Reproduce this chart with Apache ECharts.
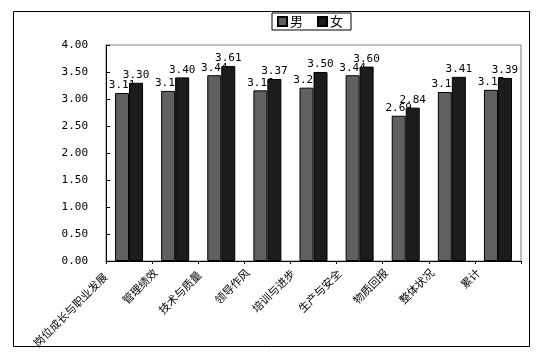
<!DOCTYPE html>
<html><head><meta charset="utf-8">
<script src="https://cdn.jsdelivr.net/npm/echarts@6/dist/echarts.min.js"></script>
<style>html,body{margin:0;padding:0;background:#fff}#c{width:550px;height:359px}</style>
</head><body><div id="c"></div>
<script>
const categories = ['岗位成长与职业发展','管理绩效','技术与质量','领导作风','培训与进步','生产与安全','物质回报','整体状况','累计'];
const male = [3.11, 3.15, 3.44, 3.16, 3.21, 3.44, 2.69, 3.13, 3.17];
const female = [3.30, 3.40, 3.61, 3.37, 3.50, 3.60, 2.84, 3.41, 3.39];
const seriesNames = ['男','女'];
const labelShift = [11, 0, 6, 0, 2, 2, 0, 0, 0];

const chart = echarts.init(document.getElementById('c'), null, {renderer:'canvas'});
const lblStyle = {show:true, position:'top', distance:2, color:'#000', fontFamily:'DejaVu Sans Mono', fontSize:11,
  formatter: p => p.value.toFixed(2)};
const catData = categories.map((c, i) => ({
  value: c,
  textStyle: {padding: [0, 28 + labelShift[i] / 2, labelShift[i], 0]}
}));
chart.setOption({
  animation:false,
  backgroundColor:'#fff',
  graphic:[{type:'rect', shape:{x:13.5,y:11.5,width:516,height:335}, style:{fill:'none',stroke:'#000',lineWidth:1}, z:-1}],
  legend:{
    data:seriesNames, left:272, top:13, orient:'horizontal',
    itemWidth:9, itemHeight:9, itemGap:14, padding:[2,8,2,5],
    borderColor:'#000', borderWidth:1,
    textStyle:{fontSize:13, color:'#000', fontFamily:'Noto Sans CJK SC', padding:[0,0,0,-2]},
    icon:'rect'
  },
  grid:{left:106, right:29, top:45, bottom:98, show:true, borderColor:'#808080', borderWidth:1},
  xAxis:{
    type:'category', data:catData,
    axisLine:{lineStyle:{color:'#000'}},
    axisTick:{show:true, length:3, alignWithLabel:false, lineStyle:{color:'#000'}},
    axisLabel:{interval:0, rotate:45, fontSize:11, color:'#000', fontFamily:'Noto Sans CJK SC', margin:-10, padding:[0,28,0,0]}
  },
  yAxis:{
    type:'value', min:0, max:4, interval:0.5,
    axisLine:{show:true, lineStyle:{color:'#000'}},
    axisTick:{show:true, inside:true, length:4, lineStyle:{color:'#000'}},
    splitLine:{show:false},
    axisLabel:{formatter:v=>v.toFixed(2), color:'#000', fontFamily:'DejaVu Sans Mono', fontSize:11, margin:18}
  },
  series:[
    {name:seriesNames[0], type:'bar', data:male, barWidth:14, barGap:'0%', z:2,
     itemStyle:{color:'#606060', borderColor:'#000', borderWidth:1}, label:lblStyle},
    {name:seriesNames[1], type:'bar', data:female, barWidth:14, barGap:'0%', z:3,
     itemStyle:{color:'#1c1c1c', borderColor:'#000', borderWidth:1}, label:lblStyle}
  ]
});
</script></body></html>
